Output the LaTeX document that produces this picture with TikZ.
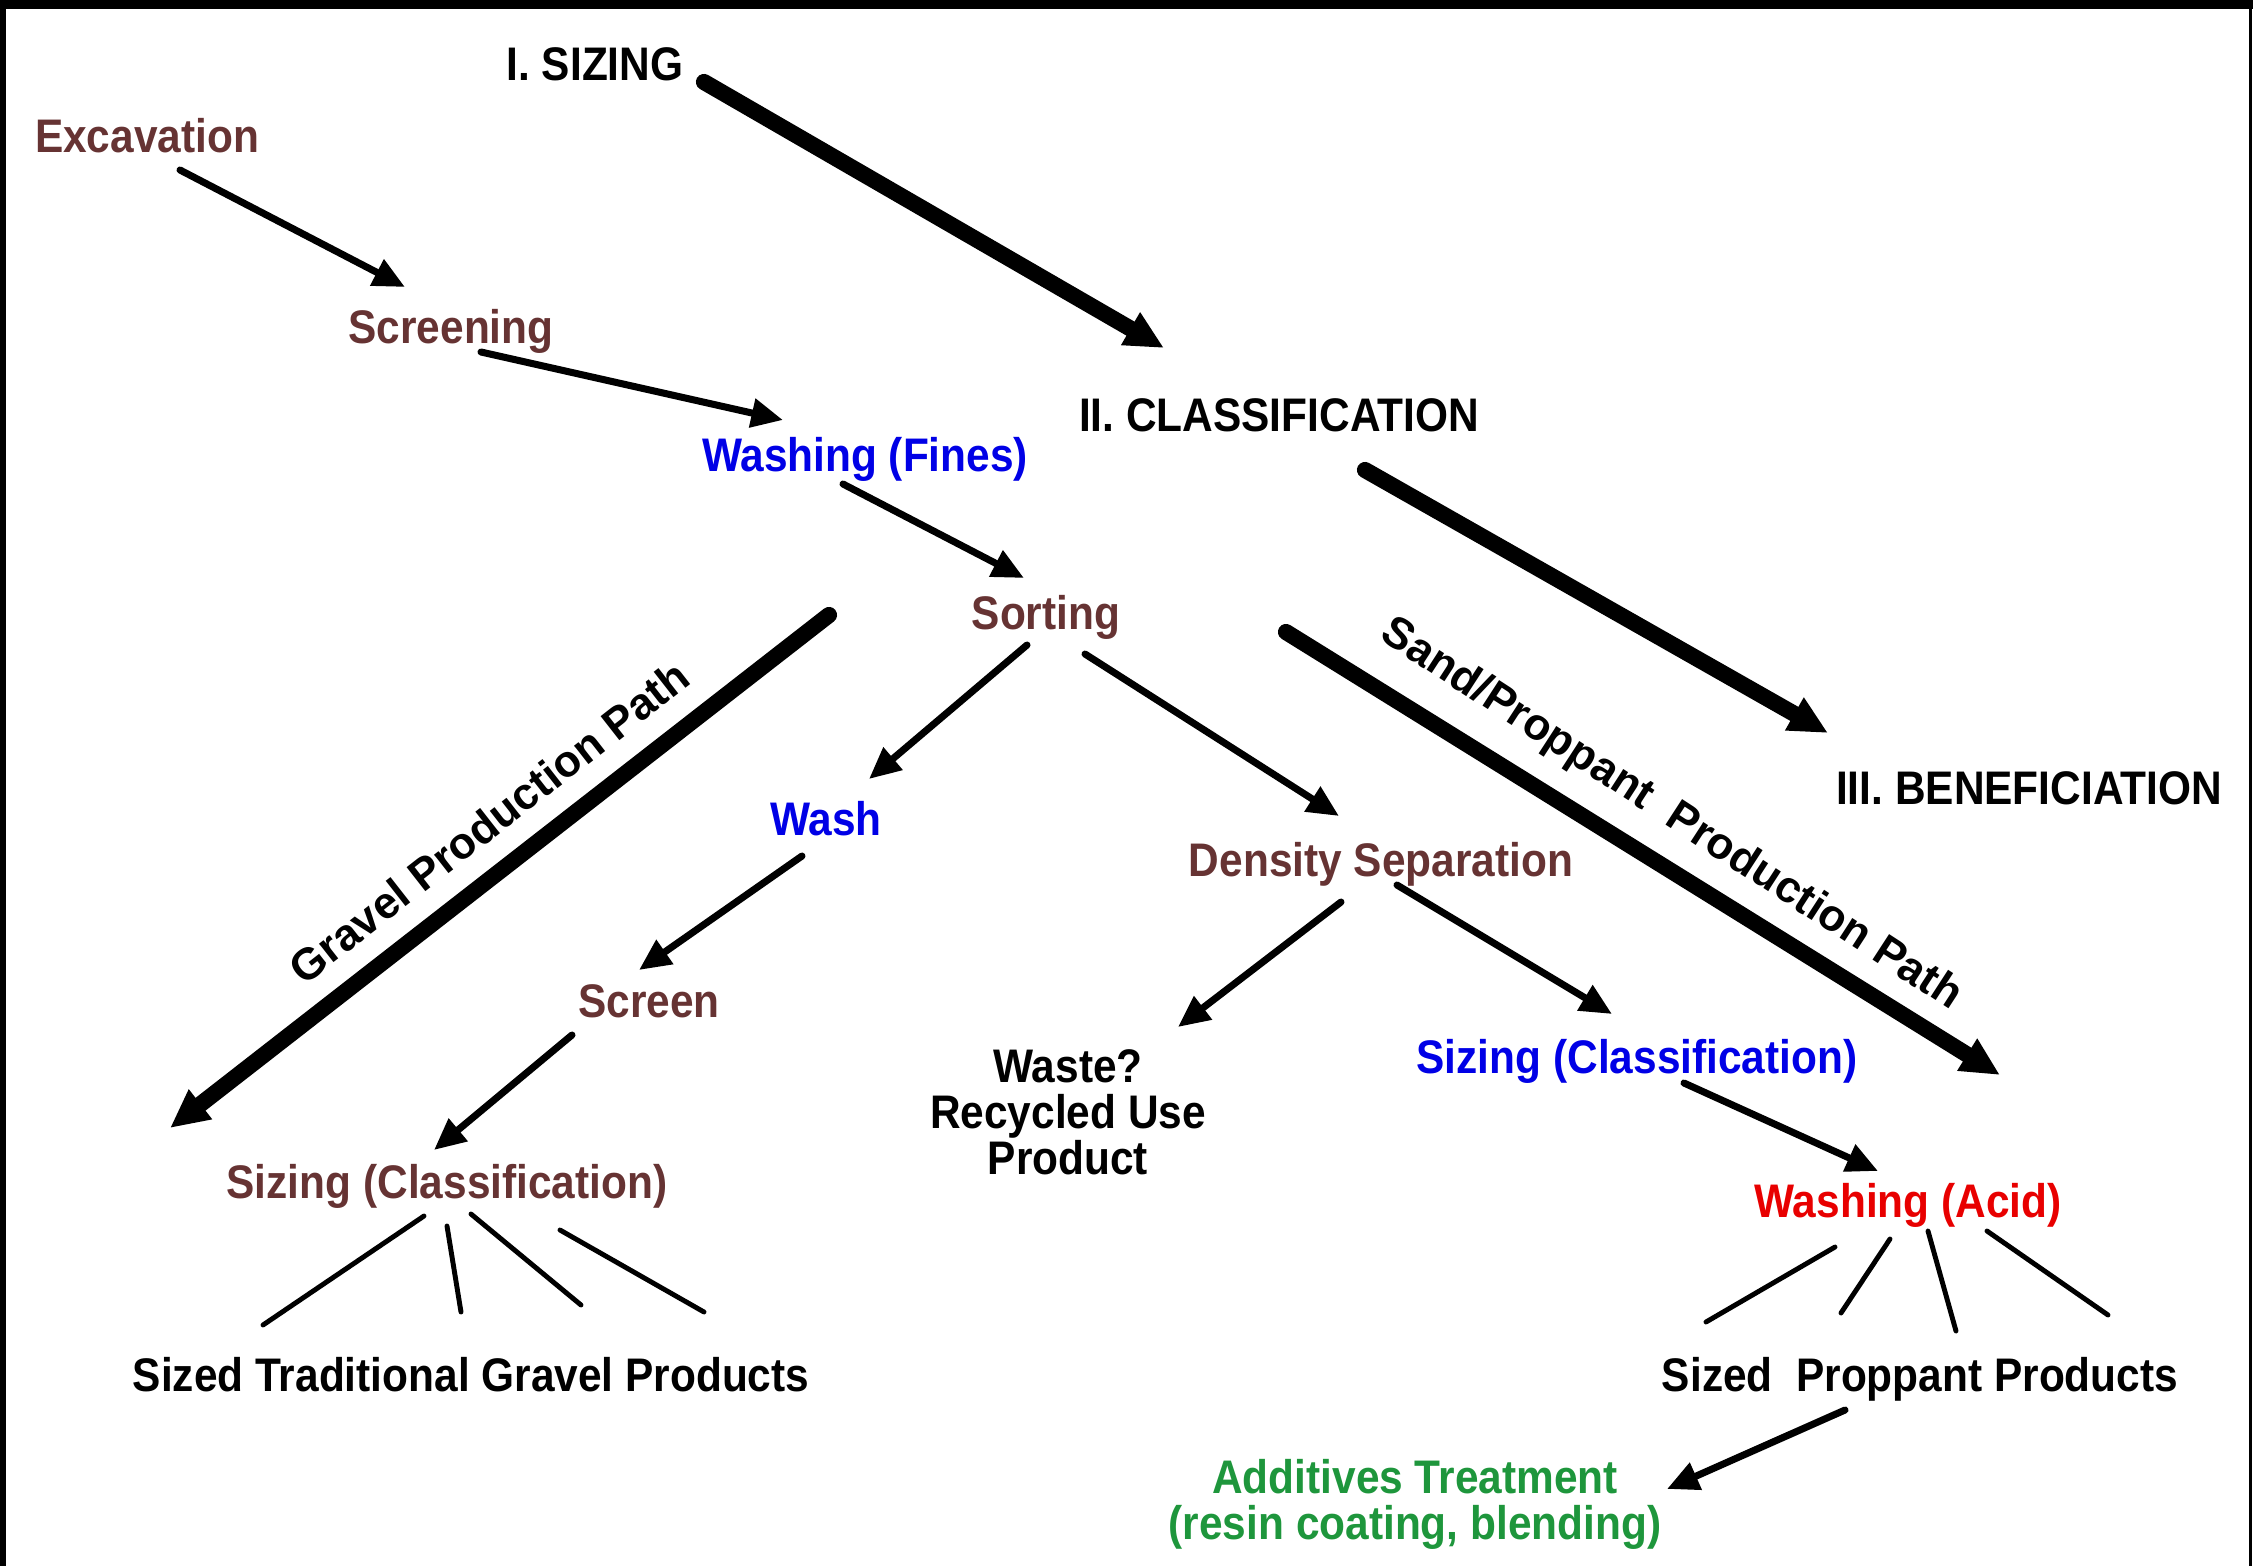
\documentclass[tikz,border=0pt]{standalone}
\usepackage{fontspec}
\setmainfont{Liberation Sans}[FakeStretch=0.9]
\newfontfamily\pathfont{Liberation Sans}
\usepackage{xcolor}
\usetikzlibrary{calc, arrows.meta}

\definecolor{brn}{RGB}{102,51,51}
\definecolor{blu}{RGB}{0,0,230}
\definecolor{rd}{RGB}{232,0,0}
\definecolor{grn}{RGB}{30,150,60}

\begin{document}
\begin{tikzpicture}[x=0.01cm, y=-0.01cm, >={Triangle[length=9pt,width=8pt]},
    lab/.style={font=\fontsize{13.4pt}{13.4pt}\selectfont\bfseries, inner sep=0pt, text height=10pt, text depth=3pt},
    lab2/.style={font=\fontsize{13.4pt}{13.1pt}\selectfont\bfseries, inner sep=0pt, align=center},
    pathlab/.style={font=\fontsize{12.6pt}{12.6pt}\pathfont\bfseries, inner sep=0pt},
    arr/.style={->, line width=2pt, line cap=round},
    bigarr/.style={-{Triangle[length=11pt,width=10pt]}, line width=4.6pt, line cap=round},
    fan/.style={line width=1.4pt, line cap=round}]
                % 1. Khung viền
                \useasboundingbox (0,0) rectangle (2253,1566);
                \fill (0,0) rectangle (2253,9);
                \fill (0,0) rectangle (6,1566);
                \fill (2249,0) rectangle (2252,1566);

                % 2. Các bước
                \node[lab] (siz) at (595,68) {I. SIZING};
                \node[lab] (cls) at (1279,419) {II. CLASSIFICATION};
                \node[lab] (ben) at (2029,792) {III. BENEFICIATION};
                \node[lab, brn] (exc) at (147,140) {Excavation};
                \node[lab, brn] (scr) at (451,331) {Screening};
                \node[lab, blu] (washf) at (865,459) {Washing (Fines)};
                \node[lab, brn] (sort) at (1046,617) {Sorting};
                \node[lab, blu] (wash) at (826,823) {Wash};
                \node[lab, brn] (dens) at (1381,864) {Density Separation};
                \node[lab, brn] (screen) at (649,1005) {Screen};
                \node[lab2] (waste) at (1068,1112) {Waste?\\Recycled Use\\Product};
                \node[lab, blu] (sizb) at (1637,1061) {Sizing (Classification)};
                \node[lab, brn] (sizg) at (447,1186) {Sizing (Classification)};
                \node[lab, rd] (wacid) at (1908,1205) {Washing (Acid)};
                \node[lab] (grav) at (471,1379) {Sized Traditional Gravel Products};
                \node[lab] (prop) at (1920,1379) {Sized\ \ Proppant Products};
                \node[lab2, grn] (add) at (1415,1504) {Additives Treatment\\(resin coating, blending)};

                % 3. Mũi tên giữa các bước
                \draw[arr] ($(exc)+(33,30)$) -- ($(scr)+(-46,-44)$);
                \draw[arr] ($(scr)+(30,21)$) -- ($(washf)+(-82,-39)$);
                \draw[arr] ($(washf)+(-22,25)$) -- ($(sort)+(-22,-39)$);
                \draw[arr] ($(sort)+(-19,28)$) -- ($(wash)+(43,-44)$);
                \draw[arr] ($(sort)+(39,37)$) -- ($(dens)+(-42,-48)$);
                \draw[arr] ($(wash)+(-24,33)$) -- ($(screen)+(-10,-35)$);
                \draw[arr] ($(screen)+(-77,30)$) -- ($(sizg)+(-13,-36)$);
                \draw[arr] ($(dens)+(-40,38)$) -- ($(waste)+(110,-85)$);
                \draw[arr] ($(dens)+(16,21)$) -- ($(sizb)+(-25,-47)$);
                \draw[arr] ($(sizb)+(47,22)$) -- ($(wacid)+(-30,-34)$);
                \draw[arr] ($(prop)+(-75,31)$) -- ($(add)+(252,-15)$);

                % 4. Các giai đoạn và hai đường sản xuất
                \draw[bigarr] ($(siz)+(109,14)$) -- ($(cls)+(-115,-71)$);
                \draw[bigarr] ($(cls)+(86,51)$) -- ($(ben)+(-201,-59)$);
                \coordinate (gp1) at (829,615);
                \coordinate (gp2) at (170,1128);
                \draw[bigarr] (gp1) -- (gp2);
                \node[pathlab, rotate=38] (gpl) at (489,822) {Gravel Production Path};
                \coordinate (sp1) at (1286,632);
                \coordinate (sp2) at (2000,1075);
                \draw[bigarr] (sp1) -- (sp2);
                \node[pathlab, rotate=-33] (spl) at (1671,815) {Sand/Proppant\ \ Production Path};

                % 5. Các nhánh sản phẩm
                \foreach \ax/\ay/\bx/\by in {-23/30/-208/-54, 0/40/-10/-67, 24/28/110/-74, 113/44/233/-67} {
                    \draw[fan] ($(sizg)+(\ax,\ay)$) -- ($(grav)+(\bx,\by)$);
                }
                \foreach \ax/\ay/\bx/\by in {-73/42/-214/-57, -18/34/-79/-66, 20/26/36/-48, 79/26/188/-64} {
                    \draw[fan] ($(wacid)+(\ax,\ay)$) -- ($(prop)+(\bx,\by)$);
                }
            \end{tikzpicture}
\end{document}
